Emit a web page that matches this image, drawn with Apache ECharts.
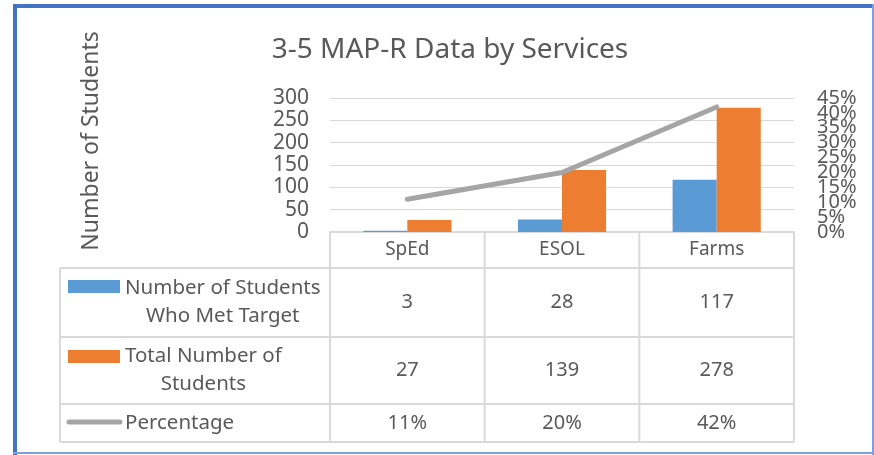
<!DOCTYPE html>
<html>
<head>
<meta charset="utf-8">
<style>
html,body{margin:0;padding:0;background:#fff;}
#main{width:874px;height:455px;}
</style>
<script src="https://cdn.jsdelivr.net/npm/echarts@6/dist/echarts.min.js"></script>
</head>
<body>
<div id="main"></div>
<script>
// data
var categories = ['SpEd', 'ESOL', 'Farms'];
var metTarget = [3, 28, 117];
var totalStudents = [27, 139, 278];
var percentage = [0.11, 0.20, 0.42];
var seriesNames = ['Number of Students\nWho Met Target', 'Total Number of\nStudents', 'Percentage'];
// 右侧坐标轴刻度 (right axis ticks, labels overlap like in Excel)
var pctTicks = [0, 0.05, 0.10, 0.15, 0.20, 0.25, 0.30, 0.35, 0.40, 0.45];

var FONT = '"Noto Sans", sans-serif';
var TXT = '#595959';
var BLUE = '#5B9BD5', ORANGE = '#ED7D31', GRAY = '#A5A5A5', LINE = '#D9D9D9';

var myChart = echarts.init(document.getElementById('main'));

function pct(v){
	return Math.round(v * 100) + '%';
}

var option = {
	animation: false,
	title: {
		text: '3-5 MAP-R Data by Services',
		left: 445,
		top: 31,
		textAlign: 'center',
		textStyle: {color: TXT, fontFamily: FONT, fontSize: 28, fontWeight: 'normal'}
	},
	grid: {left: 330, right: 80, top: 98, bottom: 223},
	xAxis: {
		type: 'category',
		data: categories,
		axisLine: {lineStyle: {color: LINE, width: 2}},
		axisTick: {show: false},
		axisLabel: {color: TXT, fontFamily: FONT, fontSize: 19, margin: 8}
	},
	yAxis: [{
		type: 'value',
		min: 0, max: 300, interval: 50,
		axisLine: {show: false},
		axisTick: {show: false},
		axisLabel: {color: TXT, fontFamily: FONT, fontSize: 21, margin: 21},
		splitLine: {lineStyle: {color: LINE, width: 1}}
	}, {
		type: 'value',
		min: 0, max: 0.45, interval: 0.05,
		axisLine: {show: false},
		axisTick: {show: false},
		splitLine: {show: false},
		axisLabel: {show: false}
	}],
	series: [{
		name: seriesNames[0],
		type: 'bar',
		data: metTarget,
		barGap: '0%',
		barCategoryGap: '43%',
		itemStyle: {color: BLUE}
	}, {
		name: seriesNames[1],
		type: 'bar',
		data: totalStudents,
		barGap: '0%',
		barCategoryGap: '43%',
		itemStyle: {color: ORANGE}
	}, {
		name: seriesNames[2],
		type: 'line',
		yAxisIndex: 1,
		data: percentage,
		symbol: 'none',
		lineStyle: {color: GRAY, width: 5, cap: 'round', join: 'round'}
	}]
};
myChart.setOption(option);

var els = [];

// right axis labels, placed with the axis scale
for (var t = 0; t < pctTicks.length; t++) {
	var ty = myChart.convertToPixel({yAxisIndex: 1}, pctTicks[t]);
	els.push({
		type: 'text',
		style: {text: pct(pctTicks[t]), x: 817, y: ty, align: 'left', verticalAlign: 'middle', fill: TXT, font: '20px ' + FONT}
	});
}

// 数据表 (data table under the plot)
var ctx = document.createElement('canvas').getContext('2d');
function textW(s, size){
	ctx.font = size + 'px ' + FONT;
	return ctx.measureText(s).width;
}

var tableLeft = 60, tableRight = 794;
var rowY = [232, 268, 337, 404, 442];
var band = (tableRight - 330) / categories.length;

function hLine(x1, x2, y){
	els.push({type: 'line', shape: {x1: x1, y1: y, x2: x2, y2: y}, style: {stroke: LINE, lineWidth: 2}});
}
function vLine(x, y1, y2){
	els.push({type: 'line', shape: {x1: x, y1: y1, x2: x, y2: y2}, style: {stroke: LINE, lineWidth: 2}});
}
for (var r = 1; r < rowY.length; r++) {
	hLine(tableLeft, tableRight, rowY[r]);
}
vLine(tableLeft, rowY[1], rowY[4]);
for (var c = 0; c <= categories.length; c++) {
	var cx0 = myChart.convertToPixel({xAxisIndex: 0}, categories[0]) - band / 2;
	vLine(cx0 + band * c, rowY[0], rowY[4]);
}

// legend keys in the table
els.push({type: 'rect', shape: {x: 68, y: 280, width: 52, height: 13}, style: {fill: BLUE}});
els.push({type: 'rect', shape: {x: 68, y: 350, width: 52, height: 13}, style: {fill: ORANGE}});
els.push({type: 'line', shape: {x1: 69, y1: 422, x2: 120, y2: 422}, style: {stroke: GRAY, lineWidth: 5, lineCap: 'round'}});

// row labels
var rows = [metTarget, totalStudents, percentage];
for (var i = 0; i < seriesNames.length; i++) {
	var lines = seriesNames[i].split('\n');
	var w = 0;
	for (var k = 0; k < lines.length; k++) w = Math.max(w, textW(lines[k], 20.5));
	var midY = (rowY[i + 1] + rowY[i + 2]) / 2;
	els.push({
		type: 'text',
		style: {
			text: seriesNames[i], x: 125 + w / 2, y: midY,
			align: 'center', verticalAlign: 'middle',
			fill: TXT, font: '20.5px ' + FONT, lineHeight: 28
		}
	});
	for (var j = 0; j < categories.length; j++) {
		var cx = myChart.convertToPixel({xAxisIndex: 0}, categories[j]);
		var val = i == 2 ? pct(rows[i][j]) : String(rows[i][j]);
		els.push({
			type: 'text',
			style: {text: val, x: cx, y: midY, align: 'center', verticalAlign: 'middle', fill: TXT, font: '20px ' + FONT}
		});
	}
}

// y axis title
els.push({
	type: 'text', x: 91, y: 141, rotation: Math.PI / 2,
	style: {text: 'Number of Students', align: 'center', verticalAlign: 'middle', fill: TXT, font: '23px ' + FONT}
});

// outer frame
els.push({type: 'rect', shape: {x: 13, y: 4, width: 861, height: 4}, style: {fill: '#4472C4'}});
els.push({type: 'rect', shape: {x: 13, y: 4, width: 4, height: 451}, style: {fill: '#4472C4'}});
els.push({type: 'rect', shape: {x: 872, y: 4, width: 2, height: 451}, style: {fill: '#7F9FDC'}});
els.push({type: 'rect', shape: {x: 13, y: 452, width: 861, height: 2}, style: {fill: '#7F9FDC'}});

myChart.setOption({graphic: {elements: els}});
</script>
</body>
</html>
